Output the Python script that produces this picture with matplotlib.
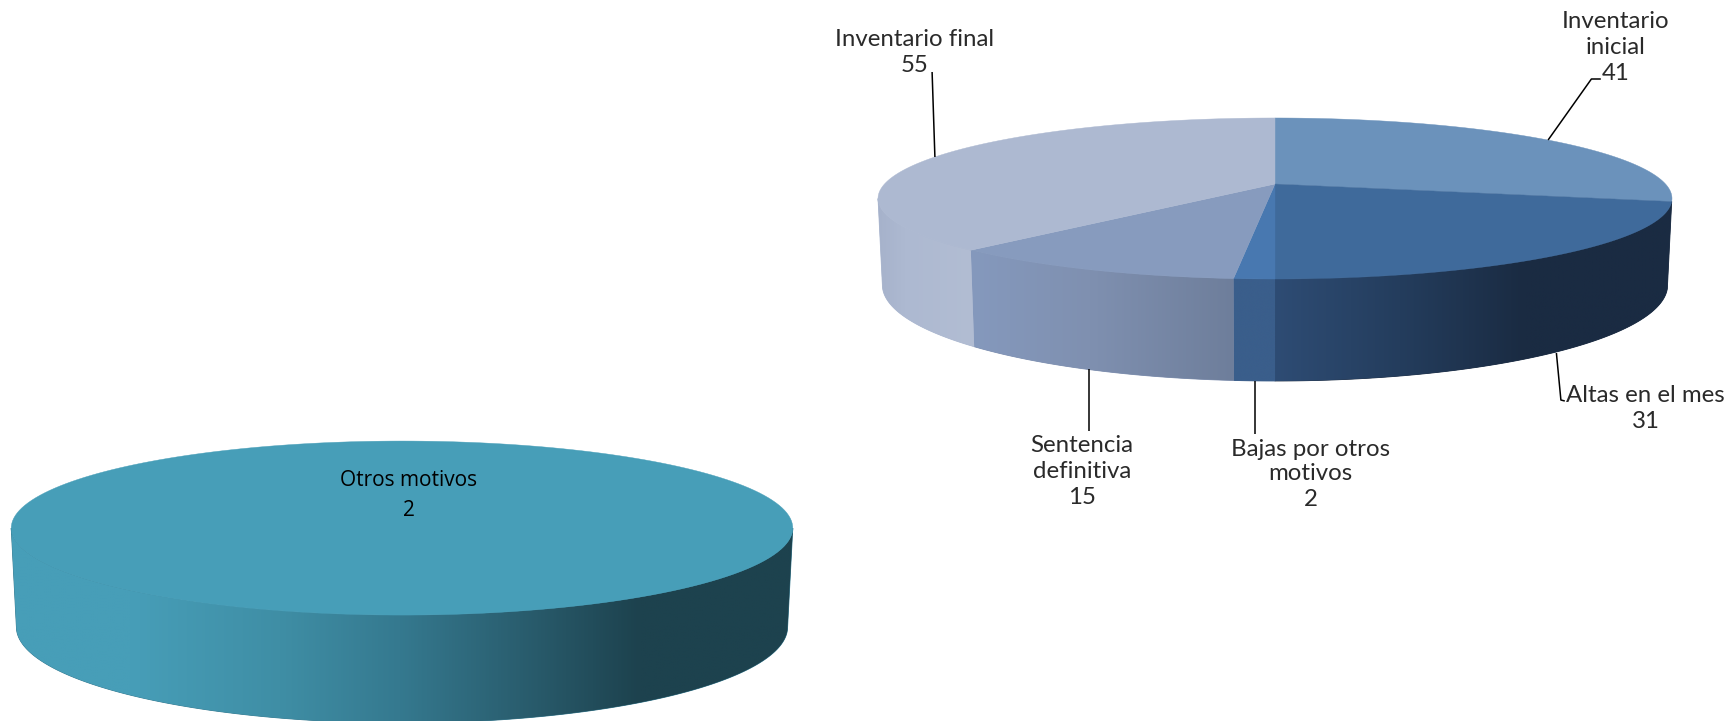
import numpy as np
import matplotlib
matplotlib.use("Agg")
import matplotlib.pyplot as plt
from matplotlib.colors import LinearSegmentedColormap
from matplotlib.patches import Polygon

# ---------- data ----------
categories = ["Inventario inicial", "Altas en el mes", "Bajas por otros motivos",
              "Sentencia definitiva", "Inventario final"]
values = [41, 31, 2, 15, 55]
other_categories = ["Otros motivos"]
other_values = [2]

# ---------- styles ----------
top_colors = ["#6B92BB", "#3F6A9B", "#4878B0", "#879BBE", "#ADB9D1"]
wall_stops = [
    None,
    [(1275, "#2E4C74"), (1400, "#243D5D"), (1525, "#1A2B42"), (1680, "#1A2B42")],
    [(1232, "#3A5E8B"), (1275, "#3A5E8B")],
    [(970, "#8599BD"), (1090, "#7F90B0"), (1234, "#6E7E9B")],
    [(878, "#A6B2CB"), (905, "#ADB9D1"), (975, "#B2BDD3")],
]
other_top = ["#479EB8"]
other_walls = [[(11, "#479EB8"), (130, "#479EB8"), (280, "#3F8EA5"), (400, "#35798F"),
                (520, "#2A5E6F"), (640, "#1D424E"), (800, "#1D424E")]]

K = 0.18
right_geom = dict(cx=1275, top=(390.5, 77.9, 184), bot=(386.2, 92.9, 267.7))
left_geom = dict(cx=402, top=(384.4, 84.2, 512.4), bot=(379.3, 92.9, 609.7))

W, H = 1730, 721
fig = plt.figure(figsize=(W / 100, H / 100), dpi=100, facecolor="white")
ax = fig.add_axes([0, 0, 1, 1])
ax.axis("off")


def project(theta, cx, params):
    """Perspective view of a circle; theta in degrees clockwise from 12 o'clock."""
    A, B, y0 = params
    t = np.radians(theta)
    u, v = np.sin(t), -np.cos(t)
    return cx + A * u / (1 - K * v), y0 + B * v / (1 - K * v)


def arc(a, b, cx, params, n=160):
    x, y = project(np.linspace(a, b, n), cx, params)
    return np.column_stack([x, y])


def draw_pie(vals, tops, walls, geom):
    cx = geom["cx"]
    edges = np.concatenate([[0], np.cumsum(vals)]) / np.sum(vals) * 360
    vis_a = np.degrees(np.arccos(-K))
    vis_b = 360 - vis_a
    # side walls
    for i, stops in enumerate(walls):
        if stops is None:
            continue
        a, b = max(edges[i], vis_a), min(edges[i + 1], vis_b)
        if b <= a:
            continue
        pts = np.vstack([arc(a, b, cx, geom["top"]), arc(b, a, cx, geom["bot"])])
        x0, x1 = stops[0][0], stops[-1][0]
        cmap = LinearSegmentedColormap.from_list(
            "w", [((s[0] - x0) / (x1 - x0), s[1]) for s in stops])
        base = stops[len(stops) // 2][1]
        ax.add_patch(Polygon(pts, closed=True, fc=base, ec=base, lw=0.6, zorder=1.5))
        poly = Polygon(pts, closed=True, fc="none", ec="none", transform=ax.transData)
        ax.add_patch(poly)
        im = ax.imshow(np.linspace(0, 1, 512)[None, :], cmap=cmap, aspect="auto",
                       extent=[x0, x1, pts[:, 1].max() + 2, pts[:, 1].min() - 2],
                       interpolation="bilinear", zorder=2)
        im.set_clip_path(poly)
    # top faces
    for i, color in enumerate(tops):
        rim = arc(edges[i], edges[i + 1], cx, geom["top"], 200)
        if len(vals) == 1:
            pts = rim
        else:
            pts = np.vstack([[cx, geom["top"][2]], rim])
        ax.add_patch(Polygon(pts, closed=True, fc=color, ec=color, lw=0.3, zorder=3))


draw_pie(values, top_colors, wall_stops, right_geom)
draw_pie(other_values, other_top, other_walls, left_geom)

# ---------- leader lines ----------
leaders = [
    ([932.1, 934.9], [72, 157]),
    ([1600.8, 1591.4, 1548.1], [79, 79, 140]),
    ([1556.4, 1560.9, 1564.8], [353, 400, 401]),
    ([1089.2, 1089.2], [369, 431]),
    ([1254.6, 1254.6], [381, 434]),
]
for xs, ys in leaders:
    ax.plot(xs, ys, color="black", lw=1.1, zorder=4, solid_capstyle="butt")

# ---------- labels ----------
FONT = dict(family="Lato", fontweight="normal", fontsize=17.3, color="#2a2a2a",
            ha="center", va="center", zorder=5)
label_lines = [
    (["Inventario", "inicial", str(values[0])], 1615.3, [22, 48, 73]),
    (["Altas en el mes", str(values[1])], 1645.6, [396, 421]),
    (["Bajas por otros", "motivos", str(values[2])], 1310.6, [449, 474, 499]),
    (["Sentencia", "definitiva", str(values[3])], 1082, [445, 471, 497]),
    (["Inventario final", str(values[4])], 914.5, [39, 65]),
]
for lines, x, ys in label_lines:
    for s, y in zip(lines, ys):
        ax.text(x, y, s, **FONT)

ax.text(408.6, 481, other_categories[0], family="Open Sans", fontsize=15, color="black",
        ha="center", va="center", zorder=5)
ax.text(408.6, 510, str(other_values[0]), family="Open Sans", fontsize=15, color="black",
        ha="center", va="center", zorder=5)

ax.set_xlim(0, W)
ax.set_ylim(H, 0)
fig.savefig("out.png", dpi=100, facecolor="white")
